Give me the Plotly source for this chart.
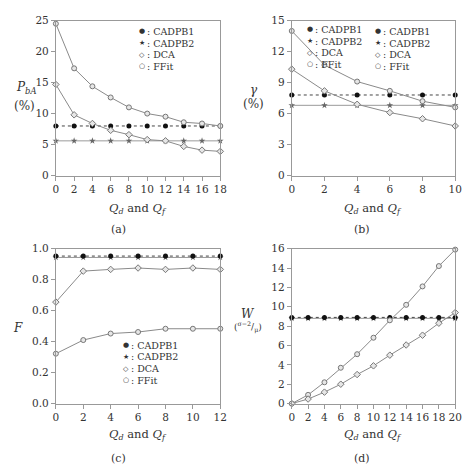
import plotly.graph_objects as go

# ---------------- data ----------------
# (a) P_bA (%)
xa = [0, 2, 4, 6, 8, 10, 12, 14, 16, 18]
a_cadpb1 = [8.0] * 10
a_cadpb2 = [5.6] * 10
a_ffit = [24.5, 17.3, 14.4, 12.6, 11.0, 10.0, 9.5, 8.6, 8.4, 8.0]
a_dca = [14.7, 9.8, 8.4, 7.3, 6.6, 5.8, 5.6, 4.7, 4.1, 3.9]

# (b) gamma (%)
xb = [0, 2, 4, 6, 8, 10]
b_cadpb1 = [7.8] * 6
b_cadpb2 = [6.8] * 6
b_ffit = [14.0, 10.7, 9.1, 8.2, 7.2, 6.6]
b_dca = [10.3, 8.2, 6.9, 6.1, 5.5, 4.8]

# (c) F
xc = [0, 2, 4, 6, 8, 10, 12]
c_cadpb1 = [0.952] * 7
c_cadpb2 = [0.943] * 7
c_upper = [0.655, 0.855, 0.866, 0.875, 0.866, 0.875, 0.866]
c_lower = [0.322, 0.41, 0.452, 0.462, 0.483, 0.483, 0.483]

# (d) W
xd = [0, 2, 4, 6, 8, 10, 12, 14, 16, 18, 20]
d_cadpb1 = [8.9] * 11
d_cadpb2 = [8.8] * 11
d_ffit = [0, 0.9, 2.2, 3.7, 5.1, 6.8, 8.6, 10.2, 12.1, 14.2, 15.9]
d_dca = [0, 0.47, 1.18, 2.0, 3.0, 3.9, 5.0, 6.05, 7.06, 8.3, 9.4]

legend_names = ["CADPB1", "CADPB2", "DCA", "FFit"]
legend_syms = ["●", "★", "◇", "○"]

W, H = 472, 470
FONT = "DejaVu Serif"
GRAY = "#8a8a8a"

fig = go.Figure()

def add_panel(n, x, c1, c2, s_hi, s_lo, hi_sym, lo_sym):
    xa_ = "x" if n == 1 else f"x{n}"
    ya_ = "y" if n == 1 else f"y{n}"
    fig.add_trace(go.Scatter(x=x, y=c2, xaxis=xa_, yaxis=ya_, mode="lines+markers",
                             line=dict(color="#9a9a9a", width=1),
                             marker=dict(symbol="star", size=5, color="#666"),
                             cliponaxis=False, showlegend=False))
    fig.add_trace(go.Scatter(x=x, y=c1, xaxis=xa_, yaxis=ya_, mode="lines+markers",
                             line=dict(color="#444", width=1, dash="dot"),
                             marker=dict(symbol="circle", size=5, color="#111"),
                             cliponaxis=False, showlegend=False))
    for s, sym in ((s_hi, hi_sym), (s_lo, lo_sym)):
        fig.add_trace(go.Scatter(x=x, y=s, xaxis=xa_, yaxis=ya_, mode="lines+markers",
                                 line=dict(color=GRAY, width=1),
                                 marker=dict(symbol=sym, size=5, color="#e6e6e6",
                                             line=dict(color="#777", width=1)),
                                 cliponaxis=False, showlegend=False))

add_panel(1, xa, a_cadpb1, a_cadpb2, a_ffit, a_dca, "circle", "diamond")
add_panel(2, xb, b_cadpb1, b_cadpb2, b_ffit, b_dca, "circle", "diamond")
add_panel(3, xc, c_cadpb1, c_cadpb2, c_upper, c_lower, "diamond", "circle")
add_panel(4, xd, d_cadpb1, d_cadpb2, d_ffit, d_dca, "circle", "diamond")

def px_x(p):
    return p / W

def px_y(p):
    return 1 - p / H

axis_common = dict(showline=True, mirror=True, linecolor="#999", linewidth=1,
                   ticks="outside", ticklen=4, tickcolor="#999", showgrid=False,
                   zeroline=False, tickfont=dict(family=FONT, size=10.5, color="#333"))

panels = {
    1: dict(xd=(54, 222), yd=(15, 174), xr=[0, 18], xt=xa, yr=[0, 25], yt=[0, 5, 10, 15, 20, 25], fmt=None),
    2: dict(xd=(295, 462), yd=(15, 174), xr=[0, 10], xt=xb, yr=[0, 15], yt=[0, 3, 6, 9, 12, 15], fmt=None),
    3: dict(xd=(54, 222), yd=(249, 408), xr=[0, 12], xt=xc, yr=[0, 1], yt=[0, 0.2, 0.4, 0.6, 0.8, 1.0], fmt=".1f"),
    4: dict(xd=(295, 462), yd=(249, 408), xr=[0, 20], xt=xd, yr=[0, 16], yt=[0, 2, 4, 6, 8, 10, 12, 14, 16], fmt=None),
}
layout = {}
for n, p in panels.items():
    xk = "xaxis" if n == 1 else f"xaxis{n}"
    yk = "yaxis" if n == 1 else f"yaxis{n}"
    xid = "x" if n == 1 else f"x{n}"
    yid = "y" if n == 1 else f"y{n}"
    layout[xk] = dict(axis_common, domain=[px_x(p["xd"][0]), px_x(p["xd"][1])], range=p["xr"],
                      tickvals=p["xt"], anchor=yid)
    ya = dict(axis_common, domain=[px_y(p["yd"][1]), px_y(p["yd"][0])], range=p["yr"],
              tickvals=p["yt"], anchor=xid)
    if p["fmt"]:
        ya["tickformat"] = p["fmt"]
    layout[yk] = ya

fig.update_layout(width=W, height=H, margin=dict(l=0, r=0, t=0, b=0),
                  paper_bgcolor="white", plot_bgcolor="white", showlegend=False, **layout)

def ann(text, x, y, size=11, xanchor="center"):
    fig.add_annotation(text=text, x=px_x(x), y=px_y(y), xref="paper", yref="paper",
                       showarrow=False, xanchor=xanchor, yanchor="middle",
                       font=dict(family=FONT, size=size, color="#333"))

xtitle = "<i>Q</i><sub><i>d</i></sub> and <i>Q</i><sub><i>f</i></sub>"
ann(xtitle, 138, 208, 11.5)
ann(xtitle, 378, 208, 11.5)
ann(xtitle, 138, 440, 11.5)
ann(xtitle, 378, 440, 11.5)
ann("(a)", 118, 229, 11)
ann("(b)", 367, 229, 11)
ann("(c)", 118, 464, 11)
ann("(d)", 367, 464, 11)

ann("<i>P</i><sub><i>bA</i></sub>", 24, 84, 12)
ann("(%)", 22, 103, 12)
ann("<i>γ</i>", 256, 86, 12)
ann("(%)", 256, 101, 12)
ann("<i>F</i>", 15, 330, 12)
ann("<i>W</i>", 250, 316, 12)
ann("(<sup>σ−2</sup>/<sub>μ</sub>)", 250, 329, 9)

for (lx, ly) in [(139, 26), (380, 26), (123, 348), (311, 24)]:
    for i, (s, name) in enumerate(zip(legend_syms, legend_names)):
        ann(s, lx + 3, ly + 12 * i, 7)
        ann(": " + name, lx + 6, ly + 12 * i, 9.5, xanchor="left")

fig.write_html("out.html")
